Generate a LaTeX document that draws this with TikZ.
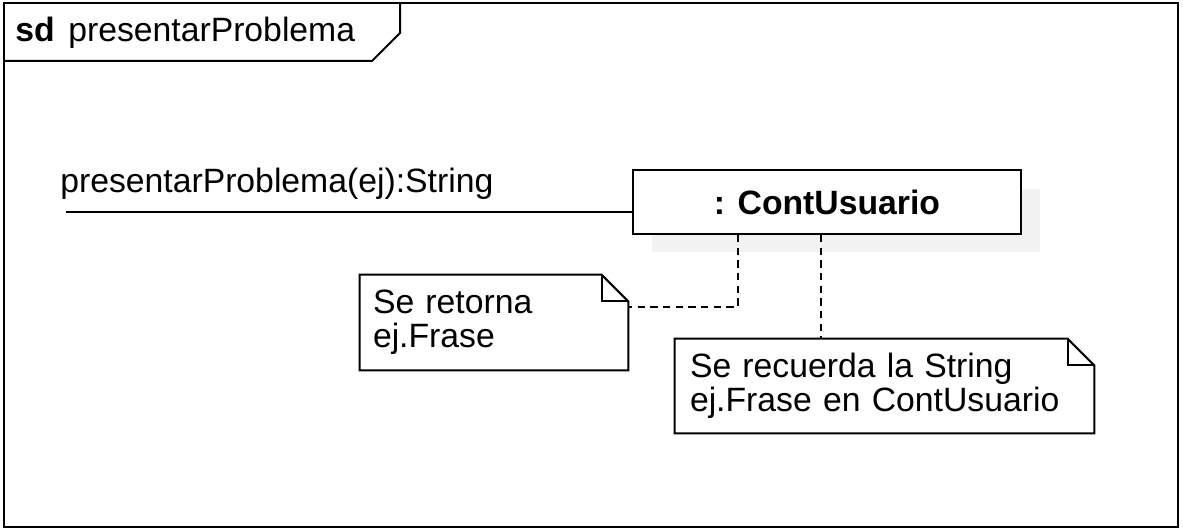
\documentclass[tikz,border=0pt]{standalone}
\usepackage{fontspec}
\setmainfont{Liberation Sans}
\begin{document}
\begin{tikzpicture}[x=0.75pt,y=0.75pt,yscale=-1,xscale=1]
\tikzset{
  uml/.style={line width=1.5pt},
  txt/.style={inner sep=0pt, anchor=base west, font=\fontsize{25.3}{25.5}\selectfont},
  notebox/.style={inner ysep=0pt, align=left, font=\fontsize{25.3}{25.5}\selectfont},
  dashlink/.style={line width=1.5pt, dash pattern=on 5.5pt off 4pt},
}
\useasboundingbox (0,0) rectangle (1183,531);

%Shape: Frame [sd]
\draw [uml] (4,3) rectangle (1178,527);
%Shape: Frame label
\draw [uml] (4,61) -- (372,61) -- (400,33) -- (400,3);
\node [txt] (sdkey) at (15,42) {\textbf{sd}};
\node [txt] (sdname) at (68,42) {presentarProblema};

%Shape: Shadow of lifeline head
\fill [black!5] (652,189) rectangle (1040,252);
%Shape: Lifeline head
\node [uml, draw, fill=white, minimum width=291pt, minimum height=48pt, inner sep=0pt,
       font=\fontsize{25.3}{25.5}\selectfont\bfseries] (cont) at (827,202) {: ContUsuario};

%Found message
\coordinate (msgstart) at (66,212);
\draw [uml] (msgstart) -- (msgstart -| cont.west);
\node [txt] (msglabel) at (60,193) {presentarProblema(ej):String};

%Notes
\node [notebox, text width=181.5pt, inner xsep=9.75pt, minimum height=71.25pt] (note1) at (494,322.5)
  {Se retorna\\ej.Frase};
\node [notebox, text width=291.75pt, inner xsep=11.25pt, minimum height=70.5pt] (note2) at (884.5,386)
  {Se recuerda la String\\ej.Frase en ContUsuario};
\foreach \n in {note1,note2} {
  \draw [uml] (\n.north west) -- ([xshift=-20pt]\n.north east) -- ([yshift=20pt]\n.north east)
    -- (\n.south east) -- (\n.south west) -- cycle;
  \draw [uml] ([xshift=-20pt]\n.north east) |- ([yshift=20pt]\n.north east);
}

%Note links
\coordinate (life1) at ([xshift=79.5pt]cont.south west);
\coordinate (life2) at ([xshift=141.75pt]cont.south west);
\coordinate (n1link) at ([yshift=24pt]note1.north east);
\draw [dashlink] (life1) |- (n1link);
\draw [dashlink] (life2) -- (life2 |- note2.north);

\end{tikzpicture}
\end{document}
